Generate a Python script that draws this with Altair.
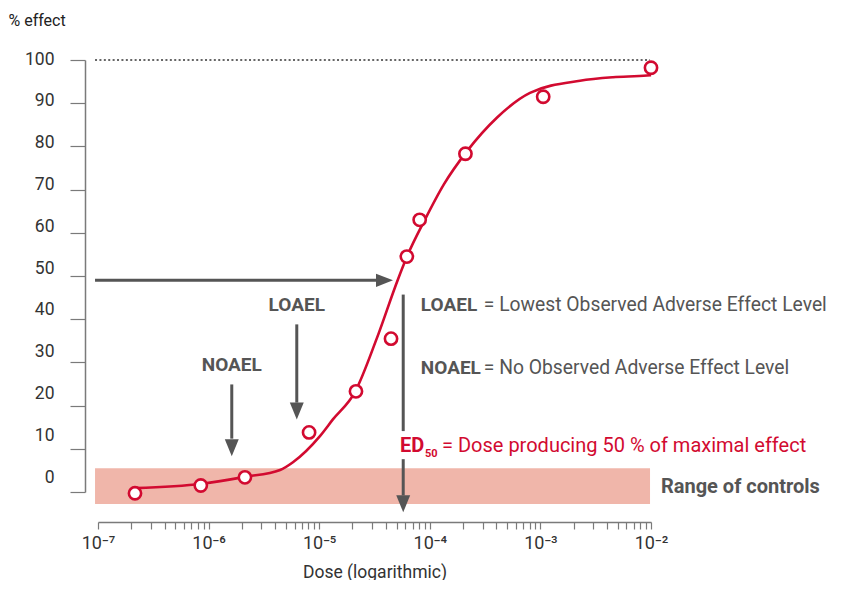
import altair as alt
import pandas as pd

RED = "#d20a30"
GRAY = "#555555"
AXIS = "#7a7a7a"
PINK = "#f0b6aa"
FONT = "Roboto"

# measured points (dose, % effect)
dose = [2.16e-7, 8.5e-7, 2.13e-6, 8.1e-6, 2.15e-5, 4.46e-5, 6.2e-5, 8.1e-5, 2.1e-4, 1.06e-3, 1.0e-2]
effect = [-0.3, 1.5, 3.4, 13.8, 23.3, 35.5, 54.5, 63.0, 78.3, 91.5, 98.2]

# fitted curve
curve_dose = [2.16e-7, 8.67e-7, 2.13e-6, 4.43e-6, 5.79e-6, 1.02e-5, 1.33e-5, 2.11e-5, 3.31e-5,
              5.15e-5, 6.22e-5, 9.06e-5, 1.34e-4, 2.17e-4, 4.06e-4, 8.05e-4,
              2.28e-3, 4.53e-3, 9.2e-3, 1.0e-2]
curve_effect = [0.9, 1.9, 3.5, 5.1, 6.9, 13.0, 16.8, 23.2, 35.5,
                49.2, 54.5, 63.1, 71.2, 78.9, 86.7, 92.4,
                95.2, 96.0, 96.4, 96.5]

# range of controls band and 100 % reference line
band_x = [9.4e-8, 9.8e-3]
band_y = [-2.8, 5.5]
max_y = 100

# arrow shafts: x, x2, y, y2
shaft_x = [9.4e-8, 1.62e-6, 6.27e-6, 5.75e-5, 5.75e-5]
shaft_x2 = [3.4e-5, 1.62e-6, 6.27e-6, 5.75e-5, 5.75e-5]
shaft_y = [49, 24.9, 38.8, 45.7, 7.6]
shaft_y2 = [49, 12.35, 20.7, 14.1, -0.8]

# arrow heads (tip positions)
head_right_x = [4.65e-5]
head_right_y = [49]
head_down_x = [1.62e-6, 6.27e-6, 5.75e-5]
head_down_y = [8.3, 16.8, -4.7]

# labels
arrow_labels = ["NOAEL", "LOAEL"]
arrow_label_x = [1.62e-6, 6.27e-6]
arrow_label_y = [29.3, 43.2]

legend_bold = ["LOAEL", "NOAEL"]
legend_rest = ["= Lowest Observed Adverse Effect Level", "= No Observed Adverse Effect Level"]
legend_x = [8.3e-5, 8.3e-5]
legend_y = [43.2, 28.8]

ed_x, ed_y = 5.38e-5, 10.6
range_label_x, range_label_y = 1.23e-2, 1.2

x_ticks = [m * 10.0 ** e for e in range(-7, -2) for m in range(1, 10)] + [1e-2]
y_ticks = list(range(0, 101, 5))

xs = alt.Scale(type="log", domain=[1e-7, 1e-2])
ys = alt.Scale(domain=[0, 100])

sup = "['⁰','¹','²','³','⁴','⁵','⁶','⁷','⁸','⁹']"
lx = "log(datum.value)/LN10"
x_label_expr = (f"abs({lx} - round({lx})) < 1e-6 ? '10⁻' + {sup}[-round({lx})] : ''")

x_axis = alt.Axis(
    values=x_ticks, labelExpr=x_label_expr, offset=30, tickSize=7, tickColor=AXIS,
    domainColor=AXIS, domainWidth=1.5, tickWidth=1.2, labelFont=FONT, labelFontSize=18,
    labelColor="#333333", labelPadding=5, title="Dose (logarithmic)", titleFont=FONT,
    titleFontSize=17.5, titleFontWeight="normal", titleColor="#333333", titlePadding=11,
    grid=False, labelFlush=False,
)
y_axis = alt.Axis(
    values=y_ticks, labelExpr="datum.value % 10 === 0 ? datum.label : ''",
    offset=13, tickSize={"expr": "datum.value % 10 === 0 ? 15 : 8"},
    labelOffset={"expr": "-1 - (100 - datum.value) * 0.14"},
    tickColor=AXIS, domainColor=AXIS, domainWidth=1.5, tickWidth=1.2,
    labelFont=FONT, labelFontSize=17.5, labelColor="#333333", labelPadding=16,
    title="% effect", titleAngle=0, titleAlign="left", titleBaseline="middle",
    titleX=-77, titleY=-40, titleFont=FONT, titleFontSize=16, titleFontWeight="normal",
    titleColor="#222222", grid=False,
)

band = alt.Chart(pd.DataFrame({"x": [band_x[0]], "x2": [band_x[1]], "y": [band_y[0]], "y2": [band_y[1]]})).mark_rect(
    color=PINK).encode(
    x=alt.X("x:Q", scale=xs, axis=x_axis), x2="x2:Q",
    y=alt.Y("y:Q", scale=ys, axis=y_axis), y2="y2:Q")

top_line = alt.Chart(pd.DataFrame({"x": [band_x[0]], "x2": [band_x[1]], "y": [max_y]})).mark_rule(
    color="#666666", strokeWidth=2, strokeDash=[2, 2.4]).encode(
    x=alt.X("x:Q", scale=xs), x2="x2:Q", y=alt.Y("y:Q", scale=ys))

shafts = alt.Chart(pd.DataFrame({"x": shaft_x, "x2": shaft_x2, "y": shaft_y, "y2": shaft_y2})).mark_rule(
    color=GRAY, strokeWidth=3).encode(
    x=alt.X("x:Q", scale=xs), x2="x2:Q", y=alt.Y("y:Q", scale=ys), y2="y2:Q")

heads_r = alt.Chart(pd.DataFrame({"x": head_right_x, "y": head_right_y})).mark_point(
    shape="M-2,-0.78L0,0L-2,0.78Z", size=289, filled=True, color=GRAY, opacity=1).encode(
    x=alt.X("x:Q", scale=xs), y=alt.Y("y:Q", scale=ys))

heads_d = alt.Chart(pd.DataFrame({"x": head_down_x, "y": head_down_y})).mark_point(
    shape="M-0.82,-2L0.82,-2L0,0Z", size=289, filled=True, color=GRAY, opacity=1).encode(
    x=alt.X("x:Q", scale=xs), y=alt.Y("y:Q", scale=ys))

curve = alt.Chart(pd.DataFrame({"x": curve_dose, "y": curve_effect})).mark_line(
    color=RED, strokeWidth=2.6, interpolate="monotone").encode(
    x=alt.X("x:Q", scale=xs), y=alt.Y("y:Q", scale=ys), order=alt.Order("x:Q"))

points = alt.Chart(pd.DataFrame({"x": dose, "y": effect})).mark_point(
    shape="circle", size=150, stroke=RED, strokeWidth=2.6, fill="white", filled=False, opacity=1).encode(
    x=alt.X("x:Q", scale=xs), y=alt.Y("y:Q", scale=ys))

arrow_text = alt.Chart(pd.DataFrame({"x": arrow_label_x, "y": arrow_label_y, "t": arrow_labels})).mark_text(
    font=FONT, fontSize=19, fontWeight="bold", color=GRAY, align="center", baseline="middle").encode(
    x=alt.X("x:Q", scale=xs), y=alt.Y("y:Q", scale=ys), text="t:N")

leg_df = pd.DataFrame({"x": legend_x, "y": legend_y, "b": legend_bold, "r": legend_rest})
leg_bold = alt.Chart(leg_df).mark_text(
    font=FONT, fontSize=19, fontWeight="bold", color=GRAY, align="left", baseline="middle").encode(
    x=alt.X("x:Q", scale=xs), y=alt.Y("y:Q", scale=ys), text="b:N")
leg_rest = alt.Chart(leg_df).mark_text(
    font=FONT, fontSize=19.3, color=GRAY, align="left", baseline="middle", dx=63).encode(
    x=alt.X("x:Q", scale=xs), y=alt.Y("y:Q", scale=ys), text="r:N")

ed_df = pd.DataFrame({"x": [ed_x], "y": [ed_y], "a": ["ED"], "s": ["50"],
                      "r": ["= Dose producing 50 % of maximal effect"]})
ed_a = alt.Chart(ed_df).mark_text(
    font=FONT, fontSize=20, fontWeight="bold", color=RED, align="left", baseline="middle").encode(
    x=alt.X("x:Q", scale=xs), y=alt.Y("y:Q", scale=ys), text="a:N")
ed_s = alt.Chart(ed_df).mark_text(
    font=FONT, fontSize=11, fontWeight="bold", color=RED, align="left", baseline="middle", dx=25, dy=8).encode(
    x=alt.X("x:Q", scale=xs), y=alt.Y("y:Q", scale=ys), text="s:N")
ed_r = alt.Chart(ed_df).mark_text(
    font=FONT, fontSize=20, color=RED, align="left", baseline="middle", dx=42).encode(
    x=alt.X("x:Q", scale=xs), y=alt.Y("y:Q", scale=ys), text="r:N")

range_text = alt.Chart(pd.DataFrame({"x": [range_label_x], "y": [range_label_y], "t": ["Range of controls"]})).mark_text(
    font=FONT, fontSize=20, fontWeight="bold", color=GRAY, align="left", baseline="middle").encode(
    x=alt.X("x:Q", scale=xs), y=alt.Y("y:Q", scale=ys), text="t:N")

chart = alt.layer(
    band, top_line, shafts, heads_r, heads_d, curve, points,
    arrow_text, leg_bold, leg_rest, ed_a, ed_s, ed_r, range_text,
).properties(
    width=553, height=432,
    padding={"left": 90, "top": 52, "right": 184, "bottom": 88},
    autosize=alt.AutoSizeParams(type="none"),
    view=alt.ViewBackground(stroke="transparent", strokeWidth=0, strokeOpacity=0),
).configure_view(stroke="transparent", strokeWidth=0).configure_axis(
    grid=False, gridOpacity=0, gridWidth=0
).configure(background="white")

chart.save("out.html", embed_options={"renderer": "svg", "actions": False})
